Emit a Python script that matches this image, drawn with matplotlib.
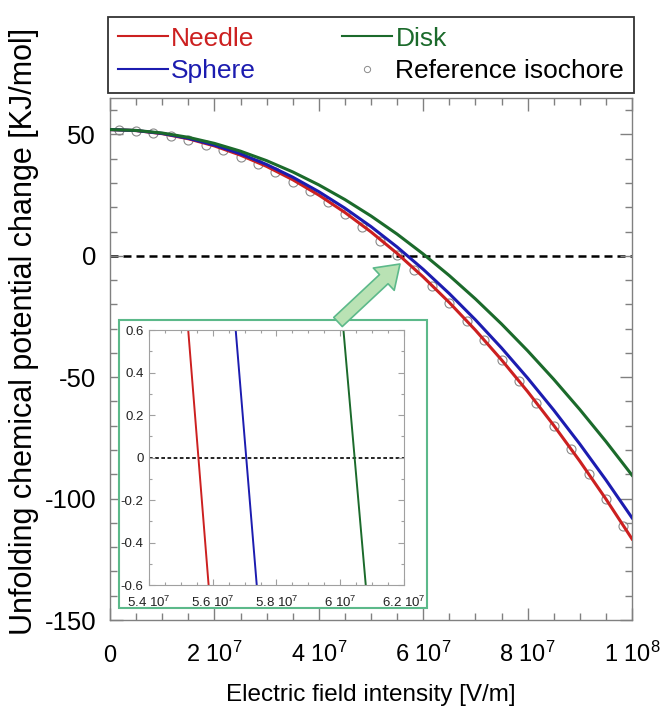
import matplotlib
matplotlib.use('Agg')
import matplotlib.pyplot as plt
import matplotlib.patches as mpatches
from matplotlib.lines import Line2D
from matplotlib.ticker import FixedLocator, MultipleLocator

plt.rcParams['font.family'] = ['Liberation Sans', 'DejaVu Sans']
plt.rcParams['mathtext.default'] = 'regular'

# ---------------- data ----------------
field = [0.0, 0.5e7, 1.0e7, 1.5e7, 2.0e7, 2.5e7, 3.0e7, 3.5e7, 4.0e7, 4.5e7, 5.0e7,
         5.5e7, 6.0e7, 6.5e7, 7.0e7, 7.5e7, 8.0e7, 8.5e7, 9.0e7, 9.5e7, 10.0e7]
needle = [52.0, 51.58, 50.31, 48.21, 45.26, 41.46, 36.83, 31.35, 25.02, 17.86, 9.85,
          1.00, -8.70, -19.23, -30.61, -42.84, -55.90, -69.81, -84.57, -100.16, -116.60]
sphere = [52.0, 51.60, 50.40, 48.40, 45.60, 42.01, 37.61, 32.41, 26.42, 19.62, 12.03,
          3.63, -5.56, -15.56, -26.35, -37.94, -50.34, -63.53, -77.52, -92.31, -107.90]
disk = [52.0, 51.64, 50.58, 48.80, 46.31, 43.10, 39.19, 34.56, 29.22, 23.17, 16.41,
        8.94, 0.75, -8.14, -17.75, -28.07, -39.10, -50.85, -63.30, -76.47, -90.35]

ref_field = [0.167e7, 0.5e7, 0.833e7, 1.167e7, 1.5e7, 1.833e7, 2.167e7, 2.5e7, 2.833e7, 3.167e7,
             3.5e7, 3.833e7, 4.167e7, 4.5e7, 4.833e7, 5.167e7, 5.5e7, 5.833e7, 6.167e7, 6.5e7,
             6.833e7, 7.167e7, 7.5e7, 7.833e7, 8.167e7, 8.5e7, 8.833e7, 9.167e7, 9.5e7, 9.833e7]
ref_isochore = [51.9, 51.5, 50.7, 49.4, 47.8, 45.8, 43.5, 40.8, 37.8, 34.4,
                30.6, 26.5, 22.0, 17.1, 11.9, 6.3, 0.4, -5.9, -12.5, -19.6,
                -27.0, -34.8, -43.0, -51.6, -60.6, -69.9, -79.7, -89.8, -100.2, -111.1]

# inset: field values where each curve crosses +0.6 and -0.6
inset_level = [0.6, -0.6]
needle_inset = [5.523e7, 5.587e7]
sphere_inset = [5.672e7, 5.738e7]
disk_inset = [6.010e7, 6.080e7]

series_names = ['Needle', 'Sphere', 'Disk', 'Reference isochore']

xtick_values = [0, 2e7, 4e7, 6e7, 8e7, 1e8]
xtick_labels = ['0', '2 10$^{7}$', '4 10$^{7}$', '6 10$^{7}$', '8 10$^{7}$', '1 10$^{8}$']
ytick_values = [50, 0, -50, -100, -150]
ytick_labels = ['50', '0', '-50', '-100', '-150']
inset_xtick_values = [5.4e7, 5.6e7, 5.8e7, 6.0e7, 6.2e7]
inset_xtick_labels = ['5.4 10$^{7}$', '5.6 10$^{7}$', '5.8 10$^{7}$', '6 10$^{7}$', '6.2 10$^{7}$']
inset_ytick_values = [0.6, 0.4, 0.2, 0.0, -0.2, -0.4, -0.6]
inset_ytick_labels = ['0.6', '0.4', '0.2', '0', '-0.2', '-0.4', '-0.6']

# ---------------- style ----------------
RED = '#cc2020'
BLUE = '#1c1cb0'
GREEN = '#1b6a2b'
FRAME_GREEN = '#5cb98a'
SPINE = '#808080'

W, H = 662, 710
fig = plt.figure(figsize=(W / 100, H / 100), dpi=100)

# main axes
ax = fig.add_axes([110 / W, 1 - 620 / H, 522 / W, 522 / H])
ax.axhline(0, color='black', lw=1.8, dashes=(3.2, 2.0), zorder=1.5)
ax.plot(ref_field, ref_isochore, linestyle='none', marker='o', ms=6.5, mfc='none',
        mec='#8a8a8a', mew=0.8, zorder=2)
ax.plot(field, needle, color=RED, lw=2.2, zorder=3)
ax.plot(field, sphere, color=BLUE, lw=2.2, zorder=3)
ax.plot(field, disk, color=GREEN, lw=2.2, zorder=3)

ax.set_xlim(0, 1e8)
ax.set_ylim(-150, 65)
ax.xaxis.set_major_locator(FixedLocator(xtick_values))
ax.set_xticklabels(xtick_labels)
ax.xaxis.set_minor_locator(MultipleLocator(5e6))
ax.yaxis.set_major_locator(FixedLocator(ytick_values))
ax.set_yticklabels(ytick_labels)
ax.yaxis.set_minor_locator(MultipleLocator(10))
ax.tick_params(which='both', direction='in', top=True, right=True, color=SPINE,
               width=1.0, labelcolor='black')
ax.tick_params(which='major', length=9)
ax.tick_params(which='minor', length=5)
ax.tick_params(axis='x', pad=30, labelsize=17)
ax.tick_params(axis='y', pad=10, labelsize=18.5)
for lbl in ax.get_xticklabels():
    lbl.set_verticalalignment('baseline')
for sp in ax.spines.values():
    sp.set_color(SPINE)
    sp.set_linewidth(1.0)

ax.set_xlabel('Electric field intensity [V/m]', fontsize=17.5)
ax.xaxis.label.set_verticalalignment('baseline')
ax.xaxis.set_label_coords(0.5, (620 - 701) / 522)
ax.set_ylabel('Unfolding chemical potential change [KJ/mol]', fontsize=22)
ax.yaxis.label.set_verticalalignment('center')
ax.yaxis.set_label_coords((24 - 110) / 522, (620 - 331) / 522)

# legend
handles = [Line2D([], [], color=RED, lw=1.5),
           Line2D([], [], color=BLUE, lw=1.5),
           Line2D([], [], color=GREEN, lw=1.5),
           Line2D([], [], linestyle='none', marker='o', ms=4.5, mfc='none', mec='#8a8a8a', mew=0.7)]
leg = fig.legend(handles, series_names, loc='lower left',
                 bbox_to_anchor=(108 / W, 1 - 93 / H, 526 / W, 79 / H), mode='expand',
                 ncol=2, fontsize=19, frameon=True, fancybox=False, edgecolor='black',
                 handlelength=1.9, handletextpad=0.12, labelspacing=0.33, borderpad=0.37,
                 borderaxespad=0, numpoints=1)
leg.get_frame().set_linewidth(1.3)
for txt, col in zip(leg.get_texts(), [RED, BLUE, GREEN, 'black']):
    txt.set_color(col)

# inset frame
frame = mpatches.Rectangle((119 / W, 1 - 608 / H), 308 / W, 288 / H, transform=fig.transFigure,
                           facecolor='white', edgecolor=FRAME_GREEN, lw=1.5, zorder=5)
fig.add_artist(frame)

# inset axes
axi = fig.add_axes([149 / W, 1 - 585 / H, 255 / W, 255 / H])
axi.set_zorder(6)
axi.axhline(0, color='black', lw=1.2, dashes=(2.2, 1.5), zorder=1.5)
axi.plot(needle_inset, inset_level, color=RED, lw=1.4)
axi.plot(sphere_inset, inset_level, color=BLUE, lw=1.4)
axi.plot(disk_inset, inset_level, color=GREEN, lw=1.4)
axi.set_xlim(5.4e7, 6.2e7)
axi.set_ylim(-0.6, 0.6)
axi.xaxis.set_major_locator(FixedLocator(inset_xtick_values))
axi.set_xticklabels(inset_xtick_labels)
axi.xaxis.set_minor_locator(MultipleLocator(5e5))
axi.yaxis.set_major_locator(FixedLocator(inset_ytick_values))
axi.set_yticklabels(inset_ytick_labels)
axi.yaxis.set_minor_locator(MultipleLocator(0.1))
axi.tick_params(which='both', direction='in', top=True, right=True, color='#a0a0a0',
                width=0.8, labelcolor='#222222', labelsize=9.5)
axi.tick_params(which='major', length=4)
axi.tick_params(which='minor', length=2)
axi.tick_params(axis='x', pad=16)
axi.tick_params(axis='y', pad=4)
for lbl in axi.get_xticklabels():
    lbl.set_verticalalignment('baseline')
for sp in axi.spines.values():
    sp.set_color('#a0a0a0')
    sp.set_linewidth(0.8)

# pointer arrow
arrow = mpatches.FancyArrowPatch((338 / W, 1 - 322 / H), (400 / W, 1 - 264 / H),
                                 transform=fig.transFigure,
                                 arrowstyle='simple,head_length=1.6,head_width=2.2,tail_width=0.9',
                                 mutation_scale=10, shrinkA=0, shrinkB=0,
                                 facecolor='#b9e2b4', edgecolor=FRAME_GREEN, lw=1.2, zorder=7)
fig.add_artist(arrow)

fig.savefig('out.png', dpi=100)
